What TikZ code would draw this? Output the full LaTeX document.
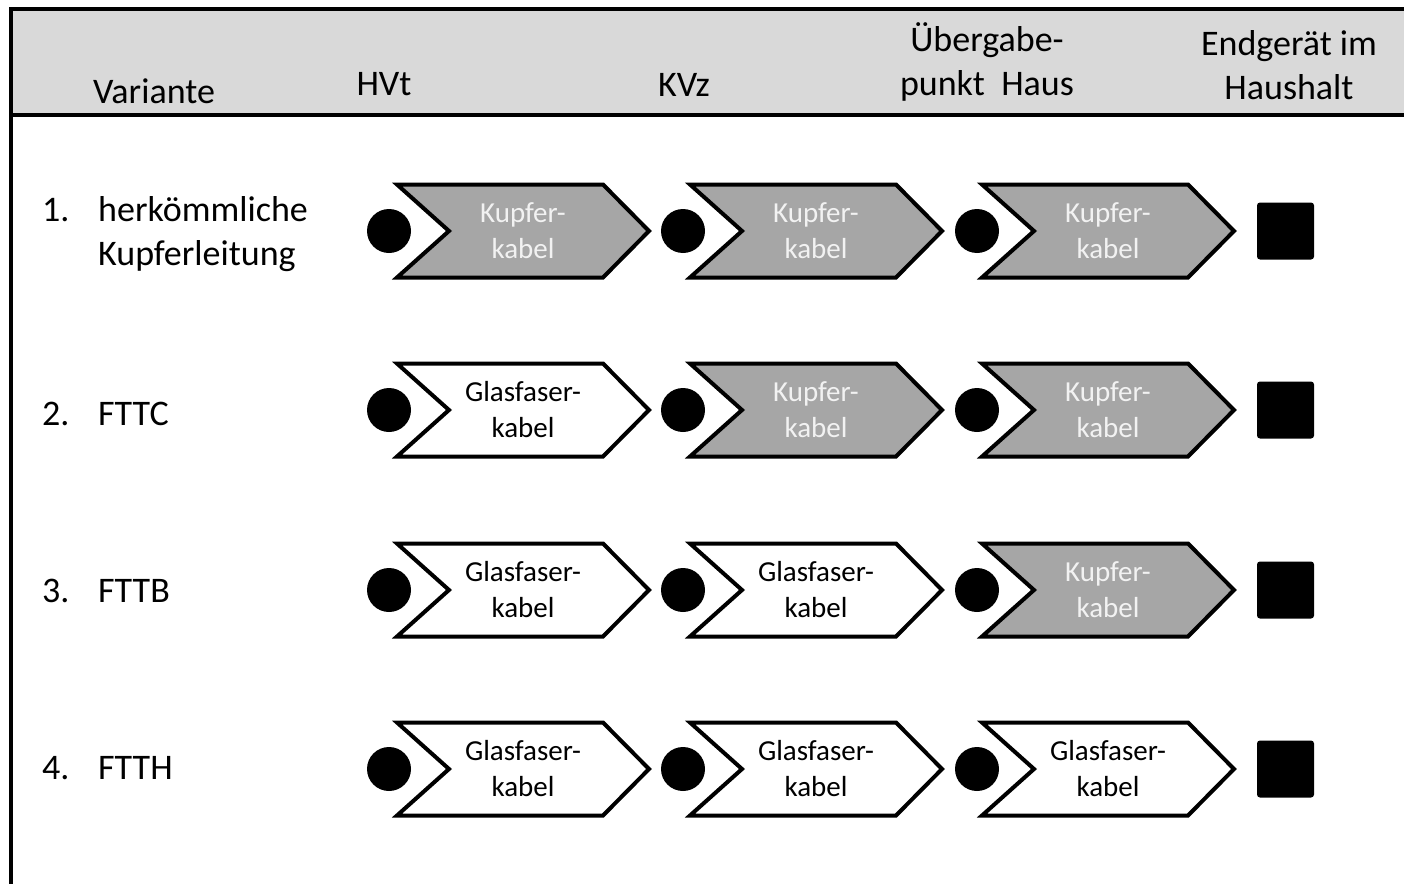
\documentclass[tikz,border=0pt]{standalone}
\usepackage{fontspec}
\setmainfont{Carlito}
\definecolor{hdr}{HTML}{D9D9D9}
\definecolor{cu}{HTML}{A6A6A6}
\definecolor{cutext}{HTML}{F2F2F2}
\tikzset{
 frame/.style={line width=4pt, draw=black},
 hdrtext/.style={font=\fontsize{36}{43}\selectfont, anchor=base, inner sep=0pt},
 rowtext/.style={font=\fontsize{36}{44}\selectfont, anchor=base west, inner sep=0pt},
 chevcu/.style={fill=cu, draw=black, line width=4pt, line join=miter},
 chevgl/.style={fill=white, draw=black, line width=4pt, line join=miter},
 cabletext/.style={font=\fontsize{29}{36}\selectfont, align=center, inner sep=0pt},
 dot/.style={circle, fill=black, minimum size=44pt, inner sep=0pt},
 device/.style={rectangle, fill=black, minimum size=57pt, inner sep=0pt, rounded corners=3pt},
}
\begin{document}
\begin{tikzpicture}[x=1pt, y=-1pt]
\useasboundingbox (0,0) rectangle (1404,883);
% header band and frame
\fill[hdr] (11,9) rectangle (1404,115);
\draw[frame] (1404,9) -- (11,9) -- (11,885);
\draw[frame] (11,115) -- (1404,115);
% header texts
\node[hdrtext] (hvar) at (154,103) {Variante};
\node[hdrtext] (hhvt) at (384,95) {HVt};
\node[hdrtext] (hkvz) at (684,96) {KVz};
\node[hdrtext] (hueb1) at (987,52) {Übergabe-};
\node[hdrtext] (hueb2) at (987,95) {punkt~ Haus};
\node[hdrtext] (hend1) at (1289,56) {Endgerät im};
\node[hdrtext] (hend2) at (1289,99) {Haushalt};
% row labels
\node[rowtext] (n1) at (42,221) {1.};
\node[rowtext] (v1a) at (98,221) {herkömmliche};
\node[rowtext] (v1b) at (98,265) {Kupferleitung};
\node[rowtext] (n2) at (42,425) {2.};
\node[rowtext] (v2) at (98,425) {FTTC};
\node[rowtext] (n3) at (42,602) {3.};
\node[rowtext] (v3) at (98,602) {FTTB};
\node[rowtext] (n4) at (42,779) {4.};
\node[rowtext] (v4) at (98,779) {FTTH};
% rows of segments
\foreach \r/\yc/\n in {1/231/0,2/410/1,3/590/2,4/769/3}{
  \foreach \i/\xo/\cx in {1/397/389,2/690/683,3/982/977}{
    \ifnum\i>\n
      \def\segstyle{chevcu}\def\segcol{cutext}\def\segtext{Kupfer-\\kabel}%
    \else
      \def\segstyle{chevgl}\def\segcol{black}\def\segtext{Glasfaser-\\kabel}%
    \fi
    \node[dot] (dot\r\i) at (\cx,\yc) {};
    \draw[\segstyle] (\xo,\yc-46.5) -- ++(206,0) -- ++(46,46.5) -- ++(-46,46.5) -- ++(-206,0) -- ++(52,-46.5) -- cycle;
    \node[cabletext, text=\segcol] (cab\r\i) at (\xo+126,\yc) {\segtext};
  }
  \node[device] (dev\r) at (1285.5,\yc) {};
}
\end{tikzpicture}
\end{document}
